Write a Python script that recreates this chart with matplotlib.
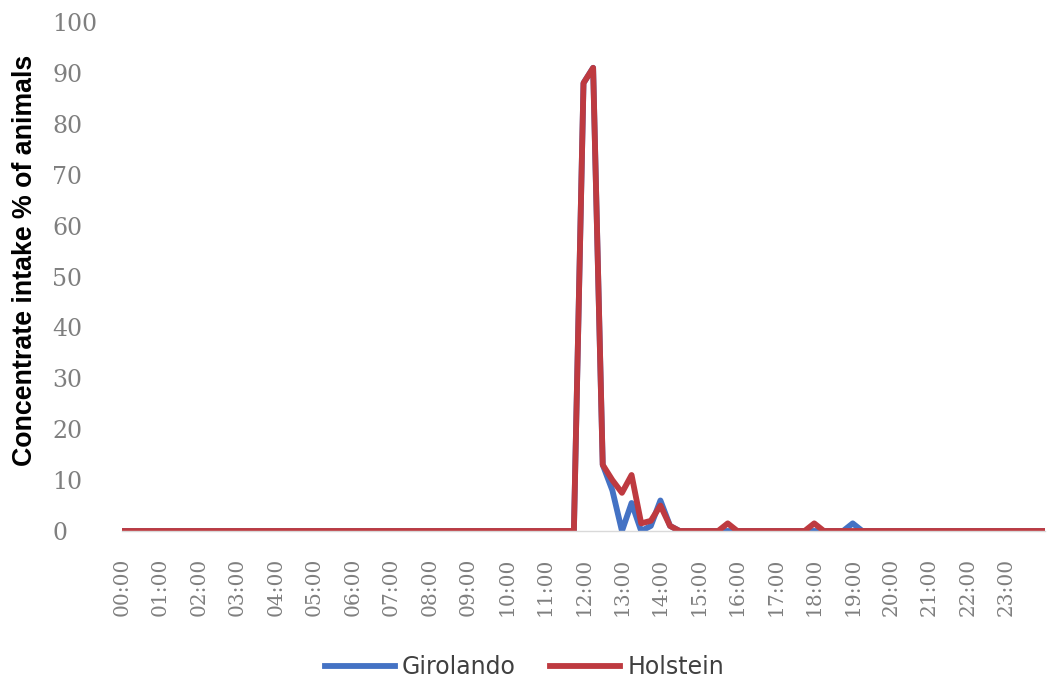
import matplotlib.pyplot as plt
import numpy as np

# 15-minute readings over the day, 00:00 to 24:00
hours = np.arange(0, 24.01, 0.25)
hour_labels = [f"{h:02d}:00" for h in range(24)]

# share of animals eating concentrate (%), only non-zero slots listed
girolando_readings = {
    "12:00": 88, "12:15": 91, "12:30": 13, "12:45": 8,
    "13:00": 0, "13:15": 5.5, "13:30": 0, "13:45": 1,
    "14:00": 6, "14:15": 1, "19:00": 1.5,
}
holstein_readings = {
    "12:00": 88, "12:15": 91, "12:30": 13, "12:45": 10,
    "13:00": 7.5, "13:15": 11, "13:30": 1.5, "13:45": 2,
    "14:00": 5, "14:15": 1, "15:45": 1.5, "18:00": 1.5,
}


def to_series(readings):
    vals = np.zeros(len(hours))
    for t, v in readings.items():
        h, m = map(int, t.split(':'))
        vals[(h * 60 + m) // 15] = v
    return vals


girolando = to_series(girolando_readings)
holstein = to_series(holstein_readings)

fig = plt.figure(figsize=(10.49, 6.89), dpi=100)
ax = fig.add_axes([122 / 1049, 1 - 531 / 689, (1045 - 122) / 1049, (531 - 22) / 689])

ax.plot(hours, girolando, color='#4472C4', lw=4.2, label='Girolando')
ax.plot(hours, holstein, color='#BE3A40', lw=4.2, label='Holstein')

ax.set_xlim(0, 24)
ax.set_ylim(0, 100)
ax.set_yticks(np.arange(0, 101, 10))
ax.set_xticks(np.arange(24))
ax.set_xticklabels(hour_labels, rotation=90, family='DejaVu Serif',
                   fontsize=14.5, color='#7f7f7f')
ax.set_yticklabels([str(v) for v in range(0, 101, 10)], family='DejaVu Serif',
                   fontsize=17, color='#7f7f7f')
for lab in ax.get_yticklabels():
    lab.set_horizontalalignment('left')
ax.tick_params(axis='y', length=0, pad=50.4)
ax.tick_params(axis='x', length=0, pad=19.5)

for side in ('left', 'top', 'right'):
    ax.spines[side].set_visible(False)
ax.spines['bottom'].set_color('#d9d9d9')
ax.spines['bottom'].set_linewidth(1)

fig.text(25 / 1049, 1 - 260 / 689, 'Concentrate intake % of animals',
         rotation=90, ha='center', va='center', fontsize=19.3,
         fontweight='bold', family='Liberation Sans')

fig.legend(loc='center', bbox_to_anchor=(0.5, 1 - 667 / 689), ncol=2,
           frameon=False, fontsize=17, handlelength=2.97, handletextpad=0.3,
           columnspacing=1.45, labelcolor='#404040')

fig.savefig('out.png', dpi=100)
